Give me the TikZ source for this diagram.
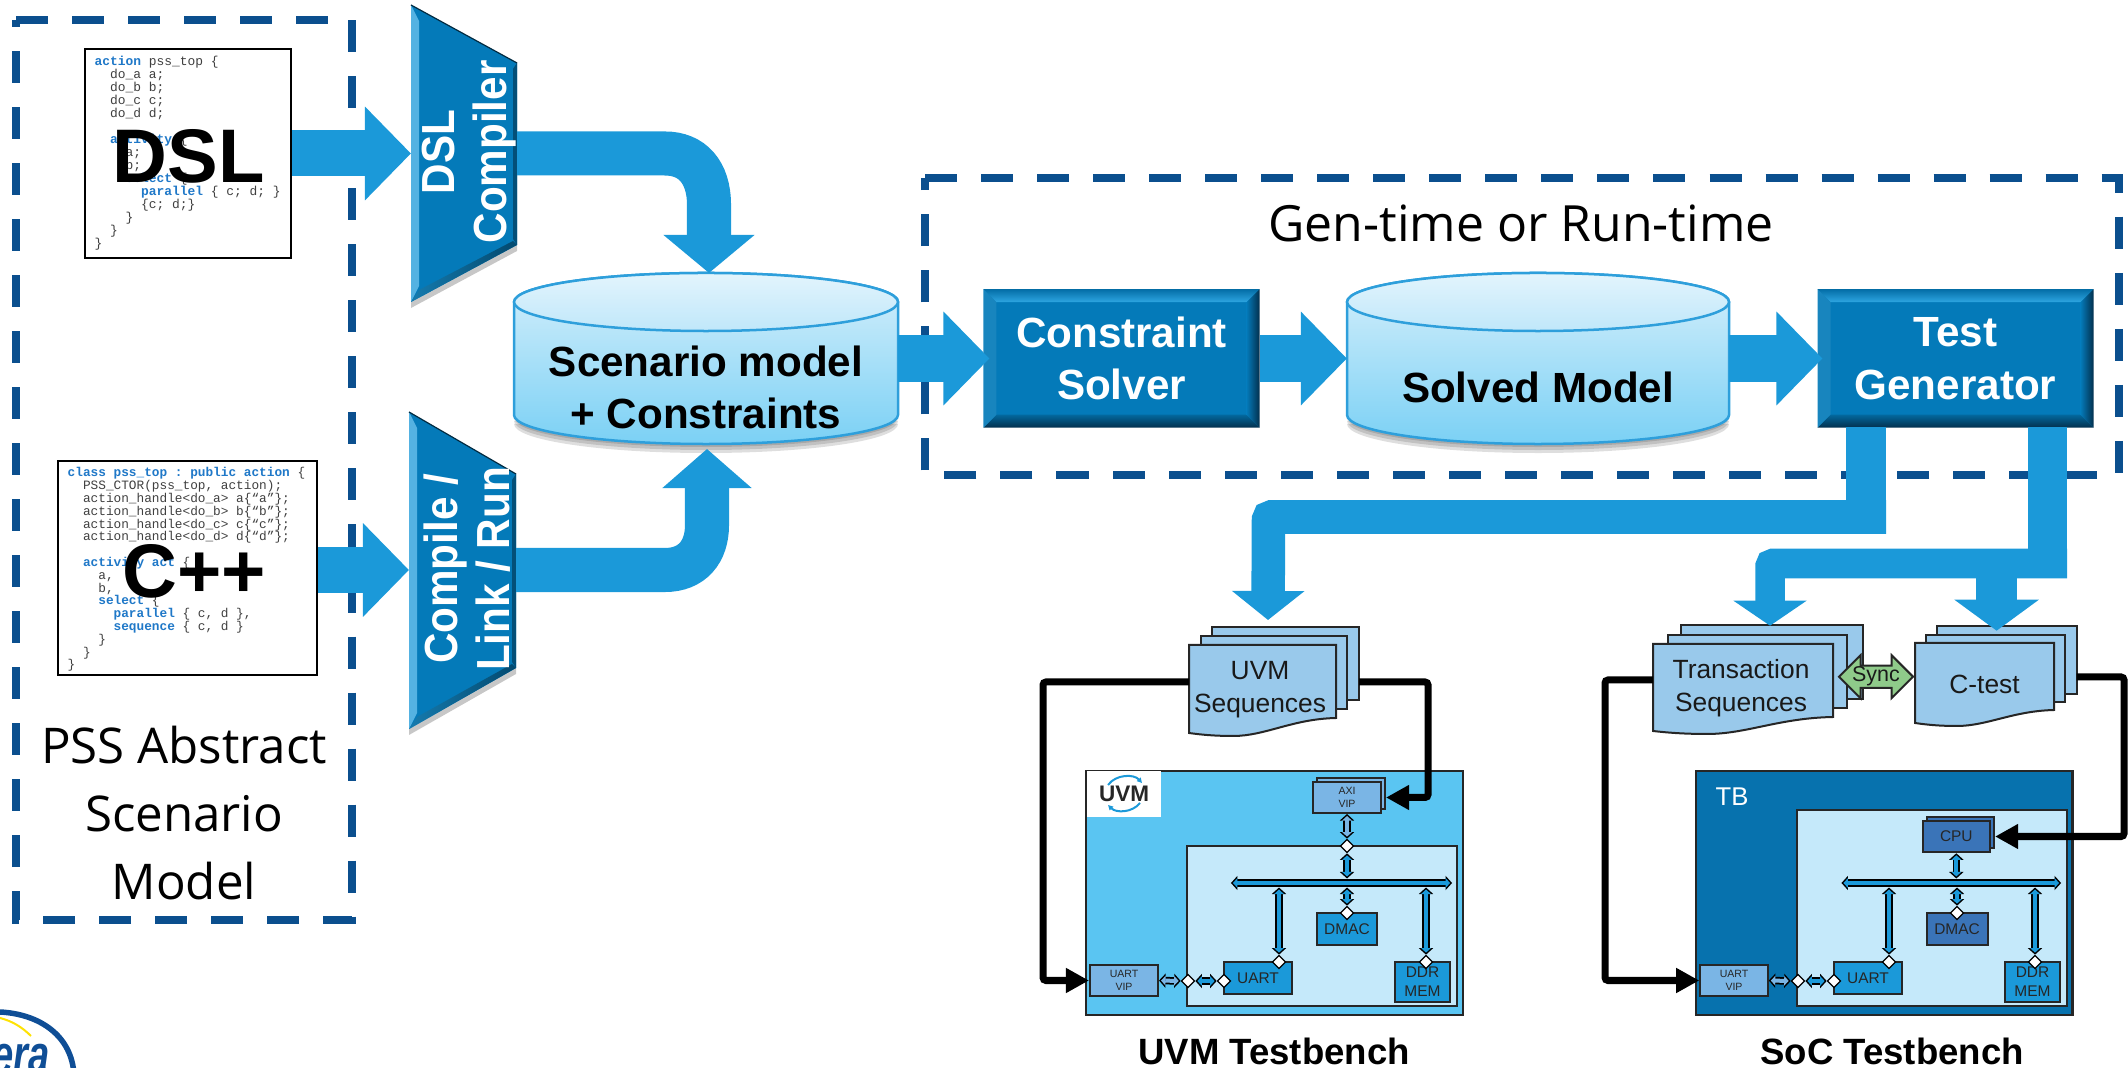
\documentclass[tikz,border=0pt]{standalone}
\usepackage{fontspec}
\setmainfont{Liberation Sans}
\setmonofont{Liberation Mono}
\newfontfamily\pssfont{Open Sans}
\usetikzlibrary{arrows.meta,shapes.geometric,shapes.arrows}
\definecolor{arrowblue}{HTML}{1B99D9}
\definecolor{framenavy}{HTML}{0B4F8E}
\definecolor{kwblue}{HTML}{1F78C8}
\definecolor{solidblue}{HTML}{047AB9}
\definecolor{pageblue}{HTML}{99C9EB}
\definecolor{vipblue}{HTML}{7AB5E5}
\definecolor{skyblue}{HTML}{5AC5F2}
\definecolor{coreblue}{HTML}{C5E9FA}
\definecolor{tbblue}{HTML}{0772AE}
\definecolor{cpublue}{HTML}{3A74B8}
\definecolor{syncgreen}{HTML}{8FCB8A}
\definecolor{drumline}{HTML}{2E9FDB}
\definecolor{logonavy}{HTML}{0F4E96}
\definecolor{bevellight}{HTML}{2EA6E2}
\definecolor{beveldark}{HTML}{03304D}
\colorlet{drumtop}{coreblue!70!white}
\colorlet{drumbottom}{skyblue!80!white}
\colorlet{drumlid}{coreblue!95!skyblue}
\newcommand{\kw}[1]{\textcolor{kwblue}{\textbf{#1}}}
\newcommand{\linkarrow}[3][arrowblue]{%
  \draw[linkouter] #2 -- #3;
  \draw[linkinner,color=#1] #2 -- #3;}
\newcommand{\bevel}[1]{%
  \shade[top color=solidblue!90!black,bottom color=bevellight] (#1.north west) -- (#1.north east)
    -- ([shift={(-13,13)}]#1.north east) -- ([shift={(13,13)}]#1.north west) -- cycle;
  \shade[top color=solidblue!85!black,bottom color=beveldark] (#1.south west) -- (#1.south east)
    -- ([shift={(-13,-13)}]#1.south east) -- ([shift={(13,-13)}]#1.south west) -- cycle;
  \fill[solidblue!92!white] (#1.north west) -- ([shift={(13,13)}]#1.north west)
    -- ([shift={(13,-13)}]#1.south west) -- (#1.south west) -- cycle;
  \shade[left color=solidblue,right color=beveldark] (#1.north east) -- ([shift={(-13,13)}]#1.north east)
    -- ([shift={(-13,-13)}]#1.south east) -- (#1.south east) -- cycle;}
\newcommand{\drum}[2]{%
  \foreach \s in {3,6,9}
    \fill[black,opacity=.13] (#1-#2,{415+\s}) arc[start angle=180,end angle=360,x radius=#2*.01cm,y radius=.29cm] -- cycle;
  \draw[drumline,line width=.025cm,top color=drumtop,bottom color=drumbottom] (#1-#2,302) -- (#1-#2,415)
    arc[start angle=180,end angle=360,x radius=#2*.01cm,y radius=.29cm] -- (#1+#2,302)
    arc[start angle=0,end angle=180,x radius=#2*.01cm,y radius=.29cm] -- cycle;
  \draw[drumline,line width=.025cm,top color=drumtop!70!white,bottom color=drumlid] (#1,302) ellipse[x radius=#2*.01cm,y radius=.29cm];}
\newcommand{\funnel}[6]{%
  \fill[black,opacity=.22] (#1,{#3+6}) -- (#4,{#6+6}) -- (#4,#6) -- (#1,#3) -- cycle;
  \fill[solidblue] (#1,#2) -- (#4,#5) -- (#4,#6) -- (#1,#3) -- cycle;
  \fill[arrowblue!75!white] (#1,#2) -- ({#1+8},{#2+16}) -- ({#1+8},{#3-16}) -- (#1,#3) -- cycle;
  \fill[solidblue!65!black] (#4,#5) -- ({#4-4},{#5+6}) -- ({#4-4},{#6-6}) -- (#4,#6) -- cycle;
  \shade[left color=arrowblue!80!black,right color=solidblue!60!black] (#1,#3) -- ({#1+8},{#3-12}) -- ({#4-4},{#6-4}) -- (#4,#6) -- cycle;
  \draw[solidblue!35!black,line width=.012cm] (#1,#2) -- (#4,#5);}
\newcommand{\pagefront}[5]{%
  \draw[pagestyle] (#1,#2) -- (#3,#2) -- (#3,#4)
    .. controls ({#3-.3*(#3-#1)},{#4+1}) and ({#3-.48*(#3-#1)},{#5+3}) .. ({#1+.3*(#3-#1)},{#5+3})
    .. controls ({#1+.15*(#3-#1)},{#5+3}) and ({#1+.05*(#3-#1)},{#5+1}) .. (#1,#5) -- cycle;}
\tikzset{
  frameline/.style={draw=framenavy,line width=.08cm,dash pattern=on .32cm off .24cm},
  codebox/.style={draw=black,line width=.025cm,fill=white,inner sep=0},
  codetext/.style={anchor=north west,align=left,inner sep=0,text=black!75},
  bigtag/.style={font=\fontsize{21.6}{25}\selectfont\bfseries,text=black,inner sep=0},
  psstext/.style={font=\pssfont\fontsize{14}{19.35}\selectfont,align=center,inner sep=0},
  bigarrow/.style={line width=.46cm,draw=arrowblue,-{Triangle[length=.46cm,width=.91cm]}},
  solidbox/.style={fill=solidblue,minimum width=2.745cm,minimum height=1.37cm,inner sep=0,text=white,align=center,
    font=\fontsize{12}{15}\selectfont\bfseries},
  spacer/.style={inner sep=0,outer sep=0},
  funneltext/.style={rotate=90,yscale=1.1,text=white,align=center,inner sep=0,font=\fontsize{12}{13.6}\selectfont\bfseries},
  drumtext/.style={text=black,align=center,inner sep=0,font=\fontsize{12}{14.8}\selectfont\bfseries},
  pagestyle/.style={draw=black!85,line width=.02cm,fill=pageblue},
  pagetext/.style={text=black!90,align=center,inner sep=0,font=\fontsize{7.5}{9.3}\selectfont},
  feedarrow/.style={draw=black,line width=.07cm,rounded corners=.03cm,-{Triangle[length=.23cm,width=.235cm]}},
  chipbox/.style={draw=black!85,line width=.02cm,inner sep=0,align=center,text=black!85,font=\fontsize{4.4}{5.4}\selectfont},
  vipbox/.style={chipbox,fill=vipblue,font=\fontsize{3}{3.7}\selectfont},
  joint/.style={diamond,draw=black,line width=.012cm,fill=white,minimum size=.135cm,inner sep=0,aspect=1},
  buspath/.style={inner sep=0,outer sep=0,minimum height=.09cm},
  linkouter/.style={draw=black,line width=.075cm,{Triangle[length=.065cm,width=.14cm]}-{Triangle[length=.065cm,width=.14cm]}},
  linkinner/.style={line width=.04cm,shorten >=.02cm,shorten <=.02cm,{Triangle[length=.045cm,width=.095cm]}-{Triangle[length=.045cm,width=.095cm]}},
  captiontext/.style={text=black,inner sep=0,font=\fontsize{10.4}{12}\selectfont\bfseries},
}
\begin{document}
\begin{tikzpicture}[x=0.01cm,y=-0.01cm]
  \useasboundingbox (0,0) rectangle (2128,1068);

  \draw[frameline] (16,20) -- (352,20) -- (352,920) -- (16,920) -- cycle;
  \draw[frameline] (925,178) -- (2119,178) -- (2119,475) -- (925,475) -- cycle;

  \node[codebox,minimum width=2.06cm,minimum height=2.09cm] (dslbox) at (188,153.5) {};
  \node[codetext,font=\ttfamily\fontsize{3.67}{3.7}\selectfont] (dslcode) at (94,55) {%
    \kw{action} pss\_top \{\\
    ~~do\_a a;\\
    ~~do\_b b;\\
    ~~do\_c c;\\
    ~~do\_d d;\\
    ~\\
    ~~\kw{activity} \{\\
    ~~~~a;\\
    ~~~~b;\\
    ~~~~\kw{select} \{\\
    ~~~~~~\kw{parallel} \{ c; d; \}\\
    ~~~~~~\{c; d;\}\\
    ~~~~\}\\
    ~~\}\\
    \}};
  \node[bigtag] (dsltag) at (188.5,156) {DSL};

  \node[codebox,minimum width=2.59cm,minimum height=2.14cm] (cppbox) at (187.5,568) {};
  \node[codetext,font=\ttfamily\fontsize{3.63}{3.64}\selectfont] (cppcode) at (67,467) {%
    \kw{class pss\_top : public action} \{\\
    ~~PSS\_CTOR(pss\_top, action);\\
    ~~action\_handle<do\_a> a\{“a”\};\\
    ~~action\_handle<do\_b> b\{“b”\};\\
    ~~action\_handle<do\_c> c\{“c”\};\\
    ~~action\_handle<do\_d> d\{“d”\};\\
    ~\\
    ~~\kw{activity act} \{\\
    ~~~~a,\\
    ~~~~b,\\
    ~~~~\kw{select} \{\\
    ~~~~~~\kw{parallel} \{ c, d \},\\
    ~~~~~~\kw{sequence} \{ c, d \}\\
    ~~~~\}\\
    ~~\}\\
    \}};
  \node[bigtag] (cpptag) at (194,571) {C++};
  \node[psstext] (psstitle) at (184,813) {PSS Abstract\\Scenario\\Model};

  \funnel{411}{5}{302}{517}{63}{245}
  \node[spacer,minimum width=1.06cm,minimum height=1.82cm] (dslmux) at (464,153.5) {};
  \node[funneltext] (dslmuxtext) at (469,152) {DSL\\Compiler};
  \funnel{409}{412}{729}{516}{474}{668}
  \node[spacer,minimum width=1.07cm,minimum height=1.94cm] (cppmux) at (462.5,570) {};
  \node[funneltext] (cppmuxtext) at (467,569) {Compile /\\Link / Run};

  \drum{706}{192}
  \node[spacer,minimum width=3.84cm,minimum height=1.71cm] (scenario) at (706,358.5) {};
  \node[drumtext] (scenariotext) at (706,387) {Scenario model\\+ Constraints};
  \drum{1538}{191}
  \node[spacer,minimum width=3.82cm,minimum height=1.71cm] (solved) at (1538,358.5) {};
  \node[drumtext] (solvedtext) at (1538,387) {Solved Model};
  \coordinate (scenariotop) at (709,273);
  \coordinate (scenariobase) at (707,449);

  \node[solidbox] (solver) at (1121.5,358.5) {Constraint\\Solver};
  \bevel{solver}
  \node[solidbox] (testgen) at (1955.5,358.5) {Test\\Generator};
  \bevel{testgen}

  \node[inner sep=0,font=\pssfont\fontsize{14.2}{17}\selectfont] (gentime) at (1521,223) {Gen-time or Run-time};

  \draw[bigarrow] (dslbox.east) -- (dslmux.west);
  \draw[bigarrow] (cppbox.east |- cppmux.west) -- (cppmux.west);
  \draw[line width=.44cm,draw=arrowblue,-{Triangle[length=.38cm,width=.89cm]}] (dslmux.east)
    -- (665,153.5) .. controls (692,153.5) and (709,172) .. (709,205) -- (scenariotop);
  \draw[line width=.44cm,draw=arrowblue,-{Triangle[length=.39cm,width=.87cm]}] (cppmux.east)
    -- (665,570) .. controls (692,570) and (707,552) .. (707,525) -- (scenariobase);
  \draw[bigarrow] (scenario.east) -- ([xshift=.06cm]solver.west);
  \draw[bigarrow] (solver.east) -- (solved.west);
  \draw[bigarrow] (solved.east) -- ([xshift=.05cm]testgen.west);

  \node[pagestyle,minimum width=1.47cm,minimum height=.73cm,inner sep=0] (uvmback) at (1285.5,663.5) {};
  \node[pagestyle,minimum width=1.457cm,minimum height=.73cm,inner sep=0] (uvmmid) at (1274,672.5) {};
  \pagefront{1189}{645}{1336}{718}{733}
  \node[pagetext] (uvmseq) at (1260,690) {UVM\\Sequences};
  \coordinate (uvmseqin) at (1189,682);
  \coordinate (uvmseqout) at (1359,682);
  \coordinate (uvmseqtop) at (1268,620);

  \node[pagestyle,minimum width=1.815cm,minimum height=.74cm,inner sep=0] (txnback) at (1771.7,662) {};
  \node[pagestyle,minimum width=1.794cm,minimum height=.73cm,inner sep=0] (txnmid) at (1757.3,671.5) {};
  \pagefront{1653}{644}{1833}{717}{731}
  \node[pagetext] (txnseq) at (1741,688) {Transaction\\Sequences};
  \coordinate (txnseqin) at (1653,680);
  \coordinate (txnseqtop) at (1770,625.7);

  \node[pagestyle,minimum width=1.4cm,minimum height=.68cm,inner sep=0] (ctestback) at (2006.7,660) {};
  \node[pagestyle,minimum width=1.39cm,minimum height=.67cm,inner sep=0] (ctestmid) at (1995.5,668.5) {};
  \pagefront{1915}{643}{2054}{710}{723}
  \node[pagetext] (ctest) at (1984.5,684) {C-test};
  \coordinate (ctestout) at (2076.6,677);
  \coordinate (ctesttop) at (1996.6,630.7);

  \node[double arrow,draw=black!85,line width=.02cm,fill=syncgreen,inner sep=0,minimum width=.43cm,minimum height=.74cm,
    double arrow head extend=.1cm,text=black!90,font=\fontsize{6.1}{7}\selectfont] (sync) at (1876,676.7) {Sync};

  \coordinate (testout1) at (1866,427);
  \coordinate (testout2) at (2047.5,427);
  \draw[line width=.4cm,draw=arrowblue] (testout1) -- (1866,534);
  \draw[line width=.335cm,draw=arrowblue,rounded corners=.03cm,-{Triangle[length=.29cm,width=.71cm]}] (1886,517) -- (1268.5,517) -- (uvmseqtop);
  \draw[line width=.39cm,draw=arrowblue] (testout2) -- (2047.5,578);
  \draw[line width=.295cm,draw=arrowblue,rounded corners=.03cm,-{Triangle[length=.25cm,width=.72cm]}] (2067,563.5) -- (1770,563.5) -- (txnseqtop);
  \draw[line width=.41cm,draw=arrowblue,-{Triangle[length=.31cm,width=.83cm]}] (1996.6,575) -- (ctesttop);

  \node[draw=black!85,line width=.025cm,fill=skyblue,minimum width=3.77cm,minimum height=2.44cm,inner sep=0] (uvmtb) at (1274.5,893) {};
  \node[fill=white,minimum width=.74cm,minimum height=.46cm,inner sep=0,text=black!85,font=\fontsize{6.4}{7}\selectfont\bfseries] (uvmlogo) at (1124,794) {UVM};
  \draw[arrowblue,line width=.02cm,-{Triangle[length=.05cm,width=.05cm]}] (1108,785) .. controls (1116,774) and (1134,774) .. (1142,783);
  \draw[arrowblue,line width=.02cm,-{Triangle[length=.05cm,width=.05cm]}] (1140,803) .. controls (1132,813) and (1116,813) .. (1108,805);
  \node[draw=black!85,line width=.02cm,fill=coreblue,minimum width=2.7cm,minimum height=1.6cm,inner sep=0] (uvmcore) at (1322,926) {};
  \node[vipbox,minimum width=.68cm,minimum height=.31cm] (uvmaxiback) at (1351,793.5) {};
  \node[vipbox,minimum width=.68cm,minimum height=.31cm] (uvmaxi) at (1347,797.5) {AXI\\VIP};
  \node[vipbox,minimum width=.68cm,minimum height=.31cm] (uvmvip) at (1124,980.5) {UART\\VIP};
  \node[chipbox,fill=arrowblue,minimum width=.6cm,minimum height=.32cm] (uvmdmac) at (1347,929) {DMAC};
  \node[chipbox,fill=arrowblue,minimum width=.68cm,minimum height=.32cm] (uvmuart) at (1258,978) {UART};
  \node[chipbox,fill=arrowblue,minimum width=.55cm,minimum height=.4cm] (uvmddr) at (1422.5,982) {DDR\\MEM};
  \node[buspath,minimum width=2.21cm] (uvmbus) at (1341.5,883) {};
  \node[joint] (uvmjtop) at (1347,846) {};
  \node[joint] (uvmjdmac) at (1347,913) {};
  \node[joint] (uvmjuart) at (1279,962) {};
  \node[joint] (uvmjddr) at (1426,962) {};
  \node[joint] (uvmjcore) at (1188,981) {};
  \node[joint] (uvmjport) at (1224,981) {};
  \linkarrow{(uvmbus.west)}{(uvmbus.east)}
  \linkarrow[vipblue]{(uvmaxi.south)}{(uvmjtop.north)}
  \linkarrow{(uvmjtop.south)}{(uvmbus.north -| uvmjtop)}
  \linkarrow{(uvmbus.south -| uvmjdmac)}{(uvmjdmac.north)}
  \linkarrow{(uvmbus.south -| uvmjuart)}{(uvmjuart.north)}
  \linkarrow{(uvmbus.south -| uvmjddr)}{(uvmjddr.north)}
  \linkarrow[vipblue]{(uvmvip.east)}{(uvmjcore.west)}
  \linkarrow{(uvmjcore.east)}{(uvmjport.west)}
  \draw[feedarrow] (uvmseqin) -- (1043,682) -- (1043,980.5) -- (uvmvip.west);
  \draw[feedarrow] (uvmseqout) -- (1428,682) -- (1428,797.5) -- (uvmaxiback.east |- uvmaxi.east);
  \node[captiontext] (uvmcaption) at (1274,1051) {UVM Testbench};

  \node[draw=black!85,line width=.025cm,fill=tbblue,minimum width=3.766cm,minimum height=2.44cm,inner sep=0] (soctb) at (1884.3,893) {};
  \node[text=white,inner sep=0,font=\fontsize{7.3}{9}\selectfont] (soctbname) at (1732,797) {TB};
  \node[draw=black!85,line width=.02cm,fill=coreblue,minimum width=2.695cm,minimum height=1.96cm,inner sep=0] (soccore) at (1931.75,908) {};
  \node[chipbox,fill=cpublue,minimum width=.675cm,minimum height=.315cm] (soccpuback) at (1960.3,832.5) {};
  \node[chipbox,fill=cpublue,minimum width=.675cm,minimum height=.315cm] (soccpu) at (1956.3,836.5) {CPU};
  \node[vipbox,minimum width=.675cm,minimum height=.31cm] (socvip) at (1734,980.5) {UART\\VIP};
  \node[chipbox,fill=cpublue,minimum width=.61cm,minimum height=.32cm] (socdmac) at (1957,929) {DMAC};
  \node[chipbox,fill=arrowblue,minimum width=.675cm,minimum height=.32cm] (socuart) at (1868,978) {UART};
  \node[chipbox,fill=arrowblue,minimum width=.545cm,minimum height=.4cm] (socddr) at (2032.5,982) {DDR\\MEM};
  \node[buspath,minimum width=2.195cm] (socbus) at (1951.25,883) {};
  \node[joint] (socjdmac) at (1957,913) {};
  \node[joint] (socjuart) at (1889,962) {};
  \node[joint] (socjddr) at (2035,962) {};
  \node[joint] (socjcore) at (1798,981) {};
  \node[joint] (socjport) at (1834,981) {};
  \linkarrow{(socbus.west)}{(socbus.east)}
  \linkarrow{(soccpu.south)}{(socbus.north -| soccpu)}
  \linkarrow{(socbus.south -| socjdmac)}{(socjdmac.north)}
  \linkarrow{(socbus.south -| socjuart)}{(socjuart.north)}
  \linkarrow{(socbus.south -| socjddr)}{(socjddr.north)}
  \linkarrow[vipblue]{(socvip.east)}{(socjcore.west)}
  \linkarrow{(socjcore.east)}{(socjport.west)}
  \draw[feedarrow] (txnseqin) -- (1605,680) -- (1605,980.5) -- (socvip.west);
  \draw[feedarrow] (ctestout) -- (2124,677) -- (2124,836.5) -- (soccpuback.east |- soccpu.east);
  \node[captiontext] (soccaption) at (1892,1051) {SoC Testbench};

  \begin{scope}
    \clip (0,990) rectangle (100,1068);
    \draw[logonavy,line width=.055cm] (0,1012) .. controls (40,1014) and (72,1036) .. (74,1075);
    \draw[yellow!85!orange,line width=.02cm] (0,1018) .. controls (12,1021) and (22,1027) .. (31,1036);
    \node[anchor=base east,xscale=.7,inner sep=0,text=logonavy,font=\fontsize{15.5}{17}\selectfont\bfseries\itshape] (logotext) at (50,1073) {era};
  \end{scope}
\end{tikzpicture}
\end{document}
